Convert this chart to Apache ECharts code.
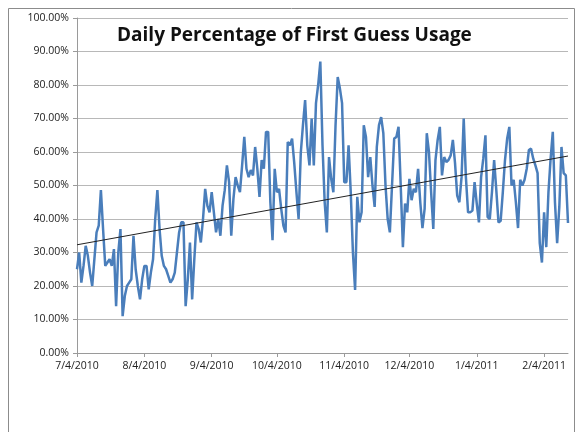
<!DOCTYPE html>
<html>
<head>
<meta charset="utf-8">
<script src="https://cdn.jsdelivr.net/npm/echarts@6/dist/echarts.min.js"></script>
<style>
  html, body { margin: 0; padding: 0; background: #fff; }
  #chart { width: 579px; height: 432px; }
</style>
</head>
<body>
<div id="chart"></div>
<script>
// first day of the series, one value per day after that
var startDate = [2010, 7, 4];

// daily percentage of first guess usage (%)
var usage = [
  25, 30, 21, 26, 32, 29, 24, 20, 28, 36,
  38, 48.6, 37, 26, 27, 28, 26, 31, 14, 30,
  37, 11, 17, 20, 21, 22, 35, 25, 20, 16,
  22, 26, 26, 19, 24, 28, 40, 48.6, 37, 29,
  26, 25, 23, 21, 22, 24, 30, 36, 39, 39,
  14, 22, 33, 16, 28, 39, 37, 33, 40, 49,
  44, 42, 48, 42, 36, 40, 35, 44, 48.6, 56,
  51, 35, 46, 52.5, 50, 48, 56, 64.5, 55, 52.5,
  54.6, 53, 61.5, 55, 46.6, 57.6, 55, 66, 66, 45,
  33.7, 55, 48, 49, 43, 38, 36, 63, 62, 64,
  56.7, 48, 40, 59.7, 68, 75.5, 62, 56, 70, 56,
  74.6, 80, 87, 62, 45, 36, 58.5, 52, 48, 68,
  82.4, 79, 74.6, 51, 51, 62, 48, 30, 18.8, 46.6,
  39, 42, 68, 64.5, 52.5, 58.5, 50, 43.6, 61.5, 68,
  70.4, 65.6, 50, 40, 36, 50, 64, 64.5, 67.5, 50,
  31.6, 44.6, 42, 52, 45.6, 49, 48, 55, 45, 37.3,
  43, 65.6, 60, 48, 37, 57.6, 63.6, 67.5, 53, 58.5,
  57, 57.6, 59, 63.6, 56.7, 47, 45, 52.5, 70, 52.5,
  42, 42, 42.5, 51, 44.6, 39, 52.5, 58, 65, 40.6,
  40, 48, 57.6, 48.6, 39, 39.4, 48, 57.6, 64, 67.5,
  50, 51.7, 45, 37.3, 51.7, 50, 51.7, 55, 60.6, 61,
  58, 56, 53.7, 32.8, 27, 42, 31.6, 48, 58, 66,
  45, 32.8, 43.6, 61.5, 53.7, 53, 38.8
];

// linear trend line, value at first and last day
var trendEnds = [32.3, 58.8];

var yTicks = [0, 10, 20, 30, 40, 50, 60, 70, 80, 90, 100];

// build the date categories
var days = [];
var dayOfMonth = [];
for (var i = 0; i < usage.length; i++) {
  var d = new Date(startDate[0], startDate[1] - 1, startDate[2] + i);
  days.push((d.getMonth() + 1) + '/' + d.getDate() + '/' + d.getFullYear());
  dayOfMonth.push(d.getDate());
}

var trend = usage.map(function (v, i) {
  if (i === 0) return trendEnds[0];
  if (i === usage.length - 1) return trendEnds[1];
  return null;
});

var onFourth = function (idx) { return dayOfMonth[idx] === 4; };

var myChart = echarts.init(document.getElementById('chart'));
var option = {
  animation: false,
  backgroundColor: '#fff',
  title: {
    text: 'Daily Percentage of First Guess Usage',
    left: 112,
    top: 21,
    textStyle: {
      fontFamily: 'Open Sans',
      fontWeight: 'bold',
      fontSize: 19,
      color: '#111'
    }
  },
  graphic: [{
    type: 'rect',
    shape: { x: 8.5, y: 8.5, width: 566, height: 440 },
    style: { fill: 'none', stroke: '#8c8c8c', lineWidth: 1 },
    silent: true
  }],
  grid: {
    left: 77,
    right: 11,
    top: 18,
    bottom: 79
  },
  xAxis: {
    type: 'category',
    data: days,
    boundaryGap: false,
    axisLine: { lineStyle: { color: '#9a9a9a' } },
    axisTick: { interval: onFourth, length: 4, lineStyle: { color: '#9a9a9a' } },
    axisLabel: {
      interval: onFourth,
      color: '#222',
      fontFamily: 'Open Sans',
      fontSize: 10.5,
      margin: 8,
      hideOverlap: false
    },
    splitLine: { show: false }
  },
  yAxis: {
    type: 'value',
    min: yTicks[0],
    max: yTicks[yTicks.length - 1],
    interval: 10,
    axisLine: { show: true, lineStyle: { color: '#9a9a9a' } },
    axisTick: { show: true, length: 4, lineStyle: { color: '#9a9a9a' } },
    axisLabel: {
      color: '#222',
      fontFamily: 'Open Sans',
      fontSize: 10.5,
      margin: 8,
      formatter: function (v) { return v.toFixed(2) + '%'; }
    },
    splitLine: { lineStyle: { color: '#b8b8b8', width: 1 } }
  },
  series: [
    {
      type: 'line',
      data: usage,
      symbol: 'none',
      lineStyle: { color: '#4a7ebb', width: 2.5 },
      z: 3
    },
    {
      type: 'line',
      data: trend,
      connectNulls: true,
      symbol: 'none',
      lineStyle: { color: '#222', width: 1 },
      z: 4
    }
  ]
};
myChart.setOption(option);
</script>
</body>
</html>
